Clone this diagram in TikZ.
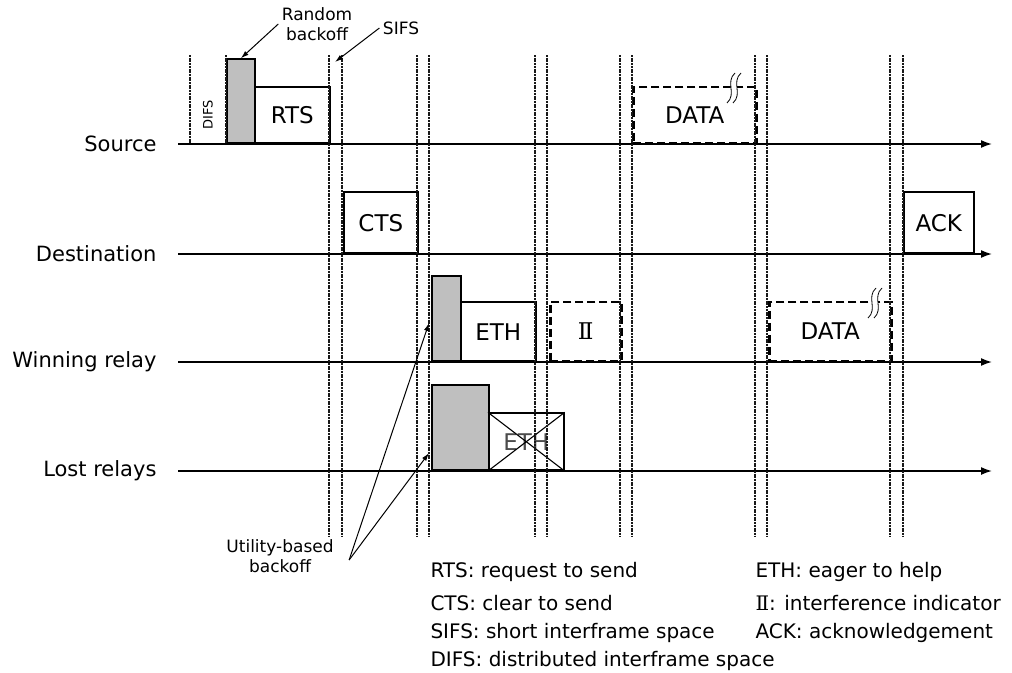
\documentclass[tikz,border=0pt]{standalone}
\usepackage{fontspec}
\setmainfont{DejaVu Sans}
\newfontfamily\numfont{DejaVu Serif}
\usetikzlibrary{arrows.meta}

\tikzset{
  axis/.style={-{Latex[length=11pt, width=8pt]}, line width=1.6pt},
  slot/.style={line width=2pt, black!90, dash pattern=on 2pt off 0.7pt},
  frame/.style={draw, line width=1.6pt, inner sep=0pt, anchor=south west, font=\fontsize{23}{26}\selectfont},
  dframe/.style={frame, dash pattern=on 8pt off 4pt, line width=2.5pt},
  backoff/.style={frame, fill=black!25},
  lane/.style={anchor=east, font=\fontsize{21}{24}\selectfont},
  note/.style={align=center, font=\fontsize{17}{22}\selectfont},
  legend/.style={anchor=west, font=\fontsize{20}{24}\selectfont},
  pointer/.style={-{Latex[length=8pt, width=5pt]}, line width=1pt},
  brk/.pic={
    \fill[white] (4,-15) .. controls (-6,-6) and (6,6) .. (-4,15)
      -- (2,15) .. controls (12,6) and (0,-6) .. (10,-15) -- cycle;
    \draw[line width=0.8pt] (4,-15) .. controls (-6,-6) and (6,6) .. (-4,15);
    \draw[line width=0.8pt] (10,-15) .. controls (0,-6) and (12,6) .. (2,15);
  }
}

\begin{document}
\begin{tikzpicture}[x=1pt, y=-1pt]
  \useasboundingbox (0,0) rectangle (1012,672);

  % 1. lanes
  \node[lane] (src) at (160,144) {Source};
  \node[lane] (dst) at (160,254) {Destination};
  \node[lane] (win) at (160,362) {Winning relay};
  \node[lane] (lost) at (160,471) {Lost relays};
  \coordinate (srcend) at (992,144);
  \coordinate (dstend) at (992,254);
  \coordinate (winend) at (992,362);
  \coordinate (lostend) at (992,471);
  \draw[axis] ([xshift=18pt]src.east) -- (srcend);
  \draw[axis] ([xshift=18pt]dst.east) -- (dstend);
  \draw[axis] ([xshift=18pt]win.east) -- (winend);
  \draw[axis] ([xshift=18pt]lost.east) -- (lostend);

  % 2. frames
  \node[rotate=90, font=\fontsize{13}{14}\selectfont] (difs) at (208,115) {DIFS};
  \node[backoff, minimum width=28, minimum height=84] (bo) at (226,144) {};
  \node[frame, minimum width=75, minimum height=56] (rts) at (254,144) {RTS};
  \node[frame, minimum width=74, minimum height=61] (cts) at (343,254) {CTS};
  \node[dframe, minimum width=123, minimum height=56] (sdata) at (632,144) {DATA};
  \node[frame, minimum width=70, minimum height=61] (ack) at (903,254) {ACK};

  \node[backoff, minimum width=29, minimum height=85] (wbo) at (431,362) {};
  \node[frame, minimum width=75, minimum height=59] (eth) at (460,362) {ETH};
  \node[dframe, minimum width=71, minimum height=59] (ii) at (549,362) {\numfont Ⅱ};
  \node[dframe, minimum width=122, minimum height=59] (wdata) at (768,362) {DATA};

  \node[backoff, minimum width=57, minimum height=85] (lbo) at (431,471) {};
  \node[frame, minimum width=75, minimum height=57, text=black!70] (lx) at (488,471) {ETH};
  \draw[line width=1.1pt] (lx.south west) -- (lx.north east);
  \draw[line width=1.1pt] (lx.north west) -- (lx.south east);

  \pic at (731,88) {brk};
  \pic at (872,303) {brk};

  % 3. slot boundaries
  \foreach \x in {190,226}
    \draw[slot] (\x,55) -- (\x,144);
  \foreach \x in {329,342,417,429,535,547,620,632,755,767,890,903}
    \draw[slot] (\x,55) -- (\x,537);

  % 4. notes
  \node[note] (rnd) at (317,24) {Random\\[-2pt]backoff};
  \node[note] (sifs) at (401,28) {SIFS};
  \node[note] (util) at (280,556) {Utility-based\\[-2pt]backoff};
  \coordinate (sifsgap) at (335,62);
  \coordinate (ua) at (429,323);
  \coordinate (ub) at (429,453);
  \draw[pointer] (rnd.west) -- (bo.north);
  \draw[pointer] (sifs.west) -- (sifsgap);
  \draw[pointer] ([xshift=12pt, yshift=-4pt]util.east) -- (ua);
  \draw[pointer] ([xshift=12pt, yshift=-4pt]util.east) -- (ub);

  % 5. legend
  \node[legend] (l1) at (427,572) {RTS: request to send};
  \node[legend] (l2) at (427,603) {CTS: clear to send};
  \node[legend] (l3) at (427,633) {SIFS: short interframe space};
  \node[legend] (l4) at (427,661) {DIFS: distributed interframe space};
  \node[legend] (l5) at (752,572) {ETH: eager to help};
  \node[legend] (l6) at (752,603) {{\numfont Ⅱ}: interference indicator};
  \node[legend] (l7) at (752,633) {ACK: acknowledgement};
\end{tikzpicture}
\end{document}
